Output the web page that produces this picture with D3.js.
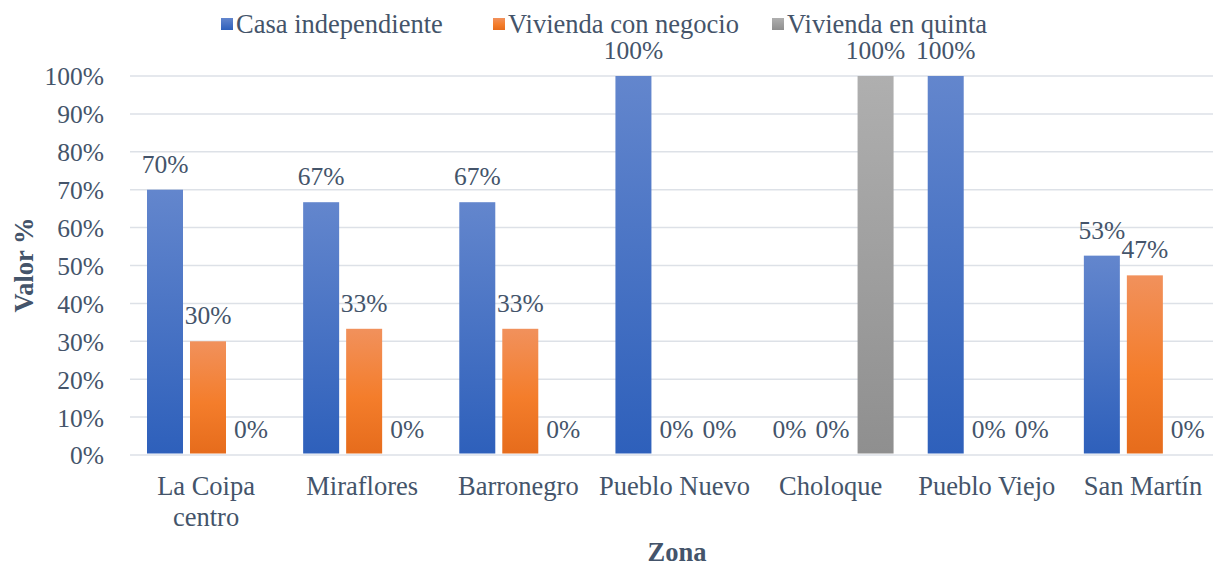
<!DOCTYPE html>
<html><head><meta charset="utf-8">
<script src="https://cdn.jsdelivr.net/npm/d3@7"></script>
<style>body{margin:0;background:#fff}svg{display:block}</style>
</head><body><svg id="c" width="1213" height="566"></svg>
<script>
const categories = [["La Coipa","centro"],["Miraflores"],["Barronegro"],["Pueblo Nuevo"],["Choloque"],["Pueblo Viejo"],["San Martín"]];
const seriesNames = ["Casa independiente","Vivienda con negocio","Vivienda en quinta"];
const casaIndependiente = [0.70,0.667,0.667,1.00,0.00,1.00,0.526];
const viviendaNegocio   = [0.30,0.333,0.333,0.00,0.00,0.00,0.474];
const viviendaQuinta    = [0.00,0.00,0.00,0.00,1.00,0.00,0.00];
const yTicks = [0,0.1,0.2,0.3,0.4,0.5,0.6,0.7,0.8,0.9,1.0];
const seriesValues = [casaIndependiente, viviendaNegocio, viviendaQuinta];

const FONT = '"Liberation Serif"';
const TXT = "#44546a";
const svg = d3.select("#c");
const defs = svg.append("defs");
const gradDefs = [
  [["0%","#6386cd"],["100%","#2e60bb"]],
  [["0%","#f1915c"],["55%","#f47d2b"],["100%","#e66c1c"]],
  [["0%","#afafaf"],["100%","#8f8f8f"]]
];
gradDefs.forEach((stops,i)=>{
  const lg = defs.append("linearGradient").attr("id","g"+i).attr("x1",0).attr("y1",0).attr("x2",0).attr("y2",1);
  stops.forEach(s=>lg.append("stop").attr("offset",s[0]).attr("stop-color",s[1]));
});

const catKeys = categories.map(c=>c.join(" "));
const x0 = d3.scaleBand().domain(catKeys).range([130,1223]).padding(0);
const x1 = d3.scaleBand().domain(seriesNames).range([17,139]).paddingInner(7/43).paddingOuter(0);
const y = d3.scaleLinear().domain([0,1]).range([455,76]);

// gridlines
svg.append("g").selectAll("line").data(yTicks).join("line")
  .attr("x1",130).attr("x2",1223).attr("y1",d=>y(d)).attr("y2",d=>y(d))
  .attr("stroke","#dde1e7").attr("stroke-width",1.5);

// y axis labels
const yAxis = d3.axisLeft(y).tickValues(yTicks).tickFormat(d3.format(".0%")).tickSize(0).tickPadding(0);
const ya = svg.append("g").attr("transform","translate(104,0)").call(yAxis);
ya.select(".domain").remove();
ya.selectAll("text").attr("fill",TXT).attr("dy","0.35em").attr("class","t25");

// bars
const groups = svg.append("g").selectAll("g").data(catKeys).join("g")
  .attr("transform",d=>`translate(${x0(d)},0)`);
groups.each(function(cat,ci){
  const g = d3.select(this);
  seriesNames.forEach((s,si)=>{
    const v = seriesValues[si][ci];
    if(v>0){
      g.append("rect").attr("x",x1(s)).attr("width",x1.bandwidth())
        .attr("y",y(v)).attr("height",y(0)-y(v)-1.5).attr("fill",`url(#g${si})`);
    }
    g.append("text").attr("class","t25").attr("x",x1(s)+x1.bandwidth()/2).attr("y",y(v)-26).attr("dy","0.35em")
      .attr("text-anchor","middle").attr("fill",TXT).text(d3.format(".0%")(v));
  });
});

// x axis labels
const xl = svg.append("g").selectAll("text").data(categories).join("text")
  .attr("class","t26")
  .attr("x",(d,i)=>x0(catKeys[i])+x0.bandwidth()/2 - 2).attr("y",486)
  .attr("text-anchor","middle").attr("fill",TXT);
xl.each(function(d){
  const t = d3.select(this);
  d.forEach((line,k)=>t.append("tspan").attr("x",t.attr("x")).attr("dy",k===0?"0.35em":"1.15em").text(line));
});

// axis titles
svg.append("text").attr("class","t26").attr("transform","translate(24,265) rotate(-90)").attr("text-anchor","middle")
  .attr("dy","0.35em").style("font-weight","bold").attr("fill",TXT).text("Valor %");
svg.append("text").attr("class","t26").attr("x",677).attr("y",552).attr("text-anchor","middle").attr("dy","0.35em")
  .style("font-weight","bold").attr("fill",TXT).text("Zona");

// legend
const legX = [236,508,787];
const lg = svg.append("g").selectAll("g").data(seriesNames).join("g")
  .attr("transform",(d,i)=>`translate(${legX[i]},24)`);
lg.append("rect").attr("x",-15).attr("y",-6).attr("width",12).attr("height",12).attr("fill",(d,i)=>`url(#g${i})`);
lg.append("text").attr("class","t26").attr("x",0).attr("dy","0.35em").attr("fill",TXT).text(d=>d);

svg.selectAll("text").style("font-family",FONT);
svg.selectAll("text.t25").style("font-size","25.5px");
svg.selectAll("text.t26").style("font-size","26.5px");
</script></body></html>
